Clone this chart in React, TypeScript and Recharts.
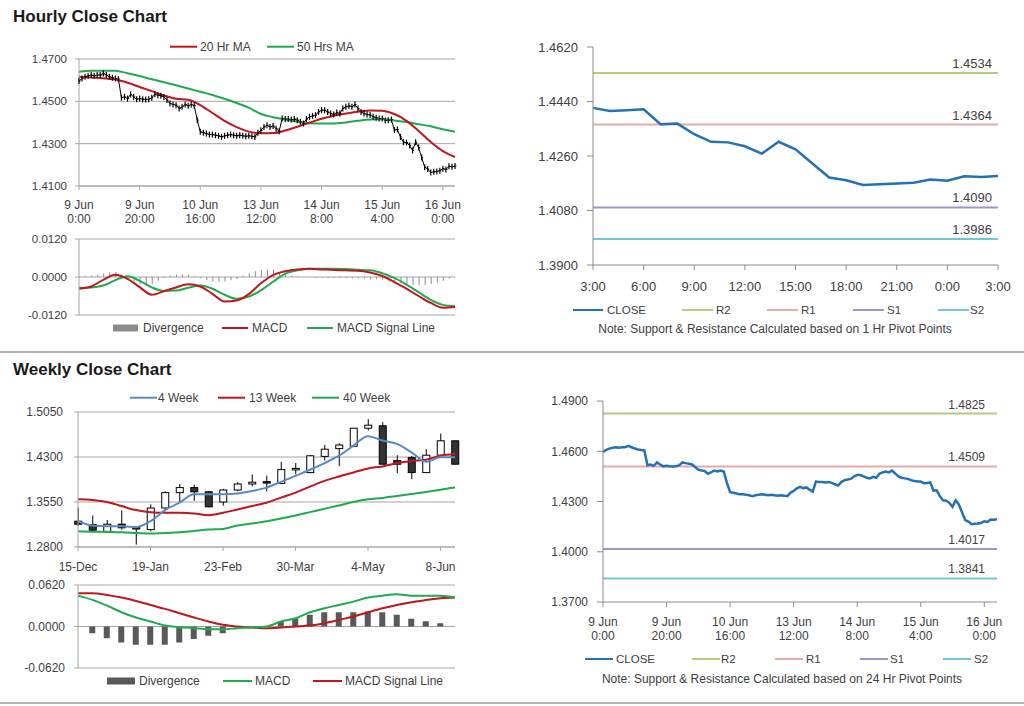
import React from "react";
import {
  ComposedChart,
  LineChart,
  Line,
  Bar,
  XAxis,
  YAxis,
  CartesianGrid,
  ReferenceLine,
} from "recharts";

// ---- hourly closes, 9 Jun 0:00 onwards (one per trading hour) ----
const hourlyClose = [
  1.4596, 1.4608, 1.4616, 1.4621, 1.4624, 1.4621, 1.4624, 1.4624, 1.4632, 1.4624,
  1.4616, 1.4611, 1.4608, 1.4605, 1.4517, 1.4521, 1.4513, 1.4533, 1.4521, 1.451,
  1.4513, 1.451, 1.4509, 1.451, 1.4517, 1.4533, 1.4529, 1.4526, 1.4521, 1.4506,
  1.449, 1.4485, 1.4482, 1.4466, 1.4474, 1.4485, 1.4479, 1.4485, 1.4479, 1.4411,
  1.4356, 1.4352, 1.4348, 1.4343, 1.4343, 1.434, 1.4337, 1.4332, 1.4337, 1.434,
  1.4343, 1.434, 1.4337, 1.434, 1.4337, 1.4335, 1.4337, 1.4335, 1.4332, 1.4352,
  1.4363, 1.4379, 1.4387, 1.4379, 1.4384, 1.4371, 1.4359, 1.4419, 1.4416, 1.4416,
  1.4414, 1.4416, 1.4411, 1.4403, 1.4395, 1.4416, 1.4427, 1.4431, 1.4435, 1.445,
  1.4458, 1.4458, 1.445, 1.4442, 1.4438, 1.4447, 1.4442, 1.4466, 1.4474, 1.4479,
  1.4474, 1.4485, 1.4466, 1.445, 1.4442, 1.4438, 1.4435, 1.4427, 1.4422, 1.4419,
  1.4419, 1.4409, 1.4411, 1.4414, 1.4365, 1.4367, 1.4332, 1.4307, 1.4305, 1.4292,
  1.4268, 1.4307, 1.4282, 1.4235, 1.4189, 1.418, 1.4164, 1.4167, 1.4169, 1.4172,
  1.4182, 1.4178, 1.4193, 1.4191, 1.4194,
];

// moving averages read every 4 hours
const maHours = [
  0, 4, 8, 12, 16, 20, 24, 28, 32, 36, 40, 44, 48, 52, 56, 60, 64, 68, 72, 76, 80,
  84, 88, 92, 96, 100, 104, 108, 112, 116, 120, 124,
];
const ma20 = [
  1.4616, 1.4612, 1.4609, 1.4603, 1.4588, 1.4568, 1.4548, 1.4528, 1.4512, 1.4507,
  1.4482, 1.4445, 1.4408, 1.4378, 1.4357, 1.4349, 1.435, 1.4362, 1.438, 1.4399,
  1.4418, 1.4432, 1.4442, 1.4451, 1.4457, 1.4455, 1.444, 1.4408, 1.436, 1.4308,
  1.4265, 1.4237,
];
const ma50 = [
  1.464, 1.4644, 1.4645, 1.4644, 1.4633, 1.462, 1.4604, 1.459, 1.4576, 1.4561,
  1.4545, 1.453, 1.4512, 1.4492, 1.447, 1.444, 1.4425, 1.4414, 1.4404, 1.4396,
  1.4395, 1.4395, 1.44, 1.4408, 1.4414, 1.4415, 1.441, 1.4402, 1.4392, 1.4382,
  1.4368, 1.4356,
];

// hourly MACD, read every 4 hours; divergence every 2 hours
const hourlyMacd = [
  -0.0037, -0.003, -0.0009, 0.0007, -0.0006, -0.0032, -0.0056, -0.0045, -0.0033,
  -0.0023, -0.003, -0.0053, -0.0077, -0.0074, -0.0054, -0.002, 0.0006, 0.0018,
  0.0024, 0.0026, 0.0024, 0.0022, 0.0021, 0.002, 0.0014, 0.0003, -0.0016, -0.0037,
  -0.006, -0.0082, -0.0097, -0.0095,
];
const hourlySignal = [
  -0.0034, -0.0033, -0.0027, -0.001, 0.0002, -0.0012, -0.0033, -0.0044, -0.0043,
  -0.0034, -0.0027, -0.0037, -0.0056, -0.0069, -0.0062, -0.0042, -0.0015, 0.001,
  0.0021, 0.0026, 0.0026, 0.0026, 0.0025, 0.0023, 0.0021, 0.0012, -0.0003, -0.0024,
  -0.0048, -0.0072, -0.0088, -0.0092,
];
const divergenceHours = [
  0, 2, 4, 6, 8, 10, 12, 14, 16, 18, 20, 22, 24, 26, 28, 30, 32, 34, 36, 38, 40, 42,
  44, 46, 48, 50, 52, 54, 56, 58, 60, 62, 64, 66, 68, 70, 72, 74, 76, 78, 80, 82, 84,
  86, 88, 90, 92, 94, 96, 98, 100, 102, 104, 106, 108, 110, 112, 114, 116, 118, 120,
  122, 124,
];
const hourlyDivergence = [
  -0.0003, 0.0003, 0.0004, 0.0008, 0.0012, 0.0015, 0.0016, 0.0008, -0.0004, -0.0014,
  -0.0022, -0.0025, -0.0022, -0.0012, -0.0003, 0.0004, 0.0008, 0.0008, 0.0008, 0.0003,
  -0.0004, -0.001, -0.0014, -0.0015, -0.0014, -0.001, -0.0006, 0.0004, 0.0012, 0.0018,
  0.0021, 0.0024, 0.0024, 0.0016, 0.0009, 0.0004, 0.0002, 0.0001, -0.0001, -0.0002,
  -0.0002, -0.0003, -0.0003, -0.0003, -0.0003, -0.0004, -0.0004, -0.0005, -0.0006,
  -0.0007, -0.0008, -0.0012, -0.0016, -0.0019, -0.0022, -0.0025, -0.0026, -0.0025,
  -0.0022, -0.0018, -0.0012, -0.0005, -0.0001,
];

const hourlyTickHours = [0, 20, 40, 60, 80, 100, 120];
const hourlyTickLabels = [
  ["9 Jun", "0:00"],
  ["9 Jun", "20:00"],
  ["10 Jun", "16:00"],
  ["13 Jun", "12:00"],
  ["14 Jun", "8:00"],
  ["15 Jun", "4:00"],
  ["16 Jun", "0:00"],
];
const hourlyPriceTicks = [1.41, 1.43, 1.45, 1.47];
const hourlyMacdTicks = [-0.012, 0, 0.012];

// ---- pivot charts ----
const pivotNames = ["R2", "R1", "S1", "S2"];
const pivot1hValues = [1.4534, 1.4364, 1.409, 1.3986];
const pivot24hValues = [1.4825, 1.4509, 1.4017, 1.3841];
const pivotHourLabels = ["3:00", "6:00", "9:00", "12:00", "15:00", "18:00", "21:00", "0:00", "3:00"];
const pivot1hTicks = [1.39, 1.408, 1.426, 1.444, 1.462];
const pivot24hTicks = [1.37, 1.4, 1.43, 1.46, 1.49];

// ---- weekly ----
const weekTickLabels = ["15-Dec", "19-Jan", "23-Feb", "30-Mar", "4-May", "8-Jun"];
const weeklyOpen = [
  1.323, 1.3174, 1.306, 1.318, 1.313, 1.309, 1.345, 1.3706, 1.379, 1.372, 1.355,
  1.375, 1.385, 1.389, 1.386, 1.41, 1.404, 1.431, 1.444, 1.448, 1.478, 1.482, 1.424,
  1.429, 1.404, 1.433, 1.457,
];
const weeklyClose = [
  1.318, 1.308, 1.318, 1.312, 1.31, 1.345, 1.3706, 1.379, 1.372, 1.347, 1.375, 1.385,
  1.388, 1.387, 1.409, 1.411, 1.432, 1.443, 1.45, 1.478, 1.483, 1.418, 1.418, 1.404,
  1.433, 1.457, 1.418,
];
const weeklyHigh = [
  1.3454, 1.3325, 1.325, 1.341, 1.3146, 1.351, 1.373, 1.385, 1.384, 1.373, 1.377,
  1.388, 1.401, 1.399, 1.422, 1.42, 1.433, 1.45, 1.453, 1.478, 1.493, 1.488, 1.433,
  1.432, 1.443, 1.469, 1.457,
];
const weeklyLow = [
  1.315, 1.306, 1.306, 1.309, 1.284, 1.306, 1.34, 1.354, 1.357, 1.346, 1.349, 1.373,
  1.381, 1.373, 1.385, 1.401, 1.403, 1.424, 1.415, 1.448, 1.474, 1.418, 1.403, 1.393,
  1.404, 1.433, 1.418,
];
const ma4w = [
  1.323, 1.3157, 1.3146, 1.3146, 1.313, 1.323, 1.3415, 1.3538, 1.3678, 1.3678, 1.3678,
  1.369, 1.3734, 1.379, 1.3885, 1.3986, 1.4087, 1.4199, 1.4322, 1.449, 1.4647, 1.4574,
  1.4518, 1.4378, 1.4221, 1.4294, 1.4294,
];
const ma13w = [
  1.3594, 1.3583, 1.355, 1.3482, 1.3415, 1.3381, 1.337, 1.337, 1.3359, 1.3331, 1.337,
  1.3426, 1.3482, 1.3538, 1.3622, 1.3706, 1.3807, 1.3902, 1.3975, 1.4042, 1.4109,
  1.4143, 1.4199, 1.4232, 1.4255, 1.4322, 1.435,
];
const ma40w = [
  1.3062, 1.3056, 1.3051, 1.3045, 1.3034, 1.3023, 1.3034, 1.3045, 1.3068, 1.309,
  1.3101, 1.3157, 1.3191, 1.323, 1.3275, 1.3325, 1.3381, 1.3437, 1.3493, 1.355,
  1.3594, 1.3617, 1.365, 1.3684, 1.3717, 1.3756, 1.379,
];
const weeklyMacd = [
  0.0461, 0.0397, 0.0312, 0.0213, 0.0134, 0.0074, 0.0015, -0.001, -0.0025, -0.004,
  -0.004, -0.0025, -0.0015, 0.0, 0.0074, 0.0124, 0.0213, 0.0273, 0.0322, 0.0372,
  0.0432, 0.0461, 0.0481, 0.0461, 0.0461, 0.0461, 0.0432,
];
const weeklySignal = [
  0.0496, 0.0496, 0.0471, 0.0432, 0.0382, 0.0322, 0.0263, 0.0198, 0.0134, 0.0074,
  0.0025, 0.0, -0.0015, -0.0025, -0.0015, 0.0, 0.0015, 0.005, 0.0099, 0.0149, 0.0213,
  0.0273, 0.0322, 0.0362, 0.0397, 0.0422, 0.0432,
];
const weeklyDivergence = [
  0.0, -0.0099, -0.0174, -0.0238, -0.0273, -0.0273, -0.0273, -0.0238, -0.0188,
  -0.0139, -0.0099, -0.0015, 0.0, 0.0, 0.0074, 0.0124, 0.0174, 0.0213, 0.0213, 0.0213,
  0.0223, 0.0213, 0.0174, 0.0114, 0.0079, 0.005, 0.0,
];
const weeklyPriceTicks = [1.28, 1.355, 1.43, 1.505];
const weeklyMacdTicks = [-0.062, 0, 0.062];

// ---- rows for recharts ----
const hourlyRows = hourlyClose.map((close, i) => {
  const k = maHours.indexOf(i);
  return { i, close, ma20: k >= 0 ? ma20[k] : null, ma50: k >= 0 ? ma50[k] : null };
});

const macdIdx = Array.from(new Set([...divergenceHours, ...maHours])).sort((a, b) => a - b);
const hourlyMacdRows = macdIdx.map((i) => {
  const d = divergenceHours.indexOf(i);
  const m = maHours.indexOf(i);
  return {
    i,
    div: d >= 0 ? hourlyDivergence[d] : null,
    macd: m >= 0 ? hourlyMacd[m] : null,
    signal: m >= 0 ? hourlySignal[m] : null,
  };
});

const pivot1hRows = hourlyClose.slice(-25).map((close, i) => ({ i, close }));
const pivot24hRows = hourlyClose.map((close, i) => ({ i, close }));

const weeklyRows = weeklyClose.map((close, i) => ({
  i,
  open: weeklyOpen[i],
  close,
  high: weeklyHigh[i],
  low: weeklyLow[i],
  ma4: ma4w[i],
  ma13: ma13w[i],
  ma40: ma40w[i],
  macd: weeklyMacd[i],
  signal: weeklySignal[i],
  div: weeklyDivergence[i],
}));

// ---- styles ----
const FONT = '"Liberation Sans", Arial, Helvetica, sans-serif';
const GRID = "#a6a6a6";
const AXIS = "#8c8c8c";
const TEXT = "#404040";
const RED = "#c0161c";
const GREEN = "#1faa4f";
const BLUE = "#2471b5";
const MA4_BLUE = "#5a8ac6";
const PIVOT_COLORS = ["#b5cc80", "#e8a9a9", "#a393cb", "#74c3dd"];

const fmt4 = (v: number) => v.toFixed(4);

const twoLineTick = (off1: number, off2: number, fontSize: number) => (props: any) => {
  const { x, y, payload } = props;
  const k = hourlyTickHours.indexOf(payload.value);
  const lines = hourlyTickLabels[k] ?? ["", ""];
  return (
    <text x={x} y={y} textAnchor="middle" fontSize={fontSize} fill={TEXT}>
      <tspan x={x} dy={off1}>{lines[0]}</tspan>
      <tspan x={x} dy={off2 - off1}>{lines[1]}</tspan>
    </text>
  );
};

const renderHourBar = (props: any) => {
  const { cx, cy, index } = props;
  if (cx == null || cy == null) return <g key={`hb-${index}`} />;
  return (
    <g key={`hb-${index}`}>
      <line x1={cx} x2={cx} y1={cy - 3} y2={cy + 3} stroke="#000" strokeWidth={1.2} />
      <line x1={cx} x2={cx + 1.5} y1={cy} y2={cy} stroke="#000" strokeWidth={1} />
    </g>
  );
};

const Candle = (props: any) => {
  const { x, y, width, height, payload } = props;
  if (x == null || y == null) return null;
  const { open, close, high, low } = payload;
  const py = (v: number) => y + ((high - v) / (high - low)) * height;
  const cx = x + width / 2;
  const top = py(Math.max(open, close));
  const bottom = py(Math.min(open, close));
  return (
    <g>
      <line x1={cx} x2={cx} y1={y} y2={y + height} stroke="#000" strokeWidth={1} />
      <rect
        x={x}
        y={top}
        width={width}
        height={Math.max(bottom - top, 1.5)}
        fill={close >= open ? "#fff" : "#333"}
        stroke="#000"
        strokeWidth={1}
      />
    </g>
  );
};

const pivotLabel = (text: string, inset: number, fontSize: number) => (props: any) => {
  const vb = props.viewBox;
  return (
    <text x={vb.x + vb.width - inset} y={vb.y - 5} textAnchor="end" fontSize={fontSize} fill={TEXT}>
      {text}
    </text>
  );
};

type LegendSpec = { x: number; w: number; tx: number; color: string; label: string; box?: boolean };

function Legend({ y, items, fontSize = 12 }: { y: number; items: LegendSpec[]; fontSize?: number }) {
  return (
    <g>
      {items.map((it) => (
        <g key={it.label}>
          {it.box ? (
            <rect x={it.x} y={y - 3.5} width={it.w} height={7} fill={it.color} />
          ) : (
            <line x1={it.x} x2={it.x + it.w} y1={y} y2={y} stroke={it.color} strokeWidth={2} />
          )}
          <text x={it.tx} y={y + fontSize * 0.36} fontSize={fontSize} fill={TEXT}>
            {it.label}
          </text>
        </g>
      ))}
    </g>
  );
}

export default function App() {
  return (
    <div
      style={{
        position: "absolute",
        left: 0,
        top: 0,
        width: 1024,
        height: 706,
        background: "#fff",
        fontFamily: FONT,
        overflow: "hidden",
      }}
    >
      {/* hourly price */}
      <div style={{ position: "absolute", left: 0, top: 30 }}>
        <ComposedChart width={470} height={200} data={hourlyRows} margin={{ top: 29, right: 15, bottom: 14, left: 0 }}>
          <CartesianGrid vertical={false} stroke={GRID} />
          <XAxis
            dataKey="i"
            type="number"
            domain={[0, 124]}
            ticks={hourlyTickHours}
            interval={0}
            height={30}
            tickSize={4}
            tickMargin={0}
            axisLine={{ stroke: GRID }}
            tickLine={{ stroke: GRID }}
            tick={twoLineTick(19.3, 33.3, 12)}
          />
          <YAxis
            type="number"
            domain={[1.41, 1.47]}
            ticks={hourlyPriceTicks}
            interval={0}
            width={79}
            tickSize={4}
            tickMargin={8}
            axisLine={{ stroke: GRID }}
            tickLine={{ stroke: GRID }}
            tick={{ fontSize: 11.5, fill: TEXT }}
            tickFormatter={fmt4}
          />
          <Line dataKey="close" stroke="#000" strokeWidth={1} dot={renderHourBar} isAnimationActive={false} />
          <Line dataKey="ma50" type="monotone" stroke={GREEN} strokeWidth={2} dot={false} connectNulls isAnimationActive={false} />
          <Line dataKey="ma20" type="monotone" stroke={RED} strokeWidth={2} dot={false} connectNulls isAnimationActive={false} />
        </ComposedChart>
      </div>

      {/* hourly MACD */}
      <div style={{ position: "absolute", left: 0, top: 232 }}>
        <ComposedChart width={470} height={100} data={hourlyMacdRows} margin={{ top: 7, right: 15, bottom: 17, left: 0 }}>
          <CartesianGrid vertical={false} stroke={GRID} horizontalValues={hourlyMacdTicks} />
          <XAxis
            dataKey="i"
            type="number"
            domain={[0, 124]}
            height={0}
            tick={false}
            tickLine={false}
            axisLine={{ stroke: GRID }}
          />
          <YAxis
            type="number"
            domain={[-0.012, 0.012]}
            ticks={hourlyMacdTicks}
            interval={0}
            width={79}
            tickSize={4}
            tickMargin={8}
            axisLine={{ stroke: GRID }}
            tickLine={{ stroke: GRID }}
            tick={{ fontSize: 11.5, fill: TEXT }}
            tickFormatter={fmt4}
          />
          <Bar dataKey="div" fill="#8c8c8c" barSize={1} isAnimationActive={false} />
          <Line dataKey="signal" type="monotone" stroke={GREEN} strokeWidth={2} dot={false} connectNulls isAnimationActive={false} />
          <Line dataKey="macd" type="monotone" stroke={RED} strokeWidth={2} dot={false} connectNulls isAnimationActive={false} />
        </ComposedChart>
      </div>

      {/* 1 hr pivot */}
      <div style={{ position: "absolute", left: 520, top: 30 }}>
        <LineChart width={500} height={275} data={pivot1hRows} margin={{ top: 17, right: 22, bottom: 10, left: 0 }}>
          <XAxis
            dataKey="i"
            type="number"
            domain={[0, 24]}
            ticks={pivotHourLabels.map((_, k) => k * 3)}
            interval={0}
            height={30}
            tickSize={5}
            tickMargin={12}
            axisLine={{ stroke: AXIS }}
            tickLine={{ stroke: AXIS }}
            tick={{ fontSize: 13, fill: TEXT }}
            tickFormatter={(v: number) => pivotHourLabels[Math.round(v / 3)]}
          />
          <YAxis
            type="number"
            domain={[1.39, 1.462]}
            ticks={pivot1hTicks}
            interval={0}
            width={73}
            tickSize={6}
            tickMargin={9}
            axisLine={{ stroke: AXIS }}
            tickLine={{ stroke: AXIS }}
            tick={{ fontSize: 13, fill: TEXT }}
            tickFormatter={fmt4}
          />
          {pivotNames.map((n, k) => (
            <ReferenceLine
              key={n}
              y={pivot1hValues[k]}
              stroke={PIVOT_COLORS[k]}
              strokeWidth={2}
              label={pivotLabel(fmt4(pivot1hValues[k]), 6, 13)}
            />
          ))}
          <Line dataKey="close" stroke={BLUE} strokeWidth={2.5} dot={false} isAnimationActive={false} />
        </LineChart>
      </div>

      {/* weekly price */}
      <div style={{ position: "absolute", left: 0, top: 380 }}>
        <ComposedChart width={470} height={195} data={weeklyRows} margin={{ top: 32, right: 15, bottom: 8, left: 0 }}>
          <CartesianGrid vertical={false} stroke={GRID} />
          <XAxis
            dataKey="i"
            type="number"
            domain={[0, 26]}
            ticks={weekTickLabels.map((_, k) => k * 5)}
            interval={0}
            height={20}
            tickSize={4}
            tickMargin={11}
            axisLine={{ stroke: GRID }}
            tickLine={{ stroke: GRID }}
            tick={{ fontSize: 12, fill: TEXT }}
            tickFormatter={(v: number) => weekTickLabels[Math.round(v / 5)]}
          />
          <YAxis
            type="number"
            domain={[1.28, 1.505]}
            ticks={weeklyPriceTicks}
            interval={0}
            width={78}
            tickSize={4}
            tickMargin={11}
            axisLine={{ stroke: GRID }}
            tickLine={{ stroke: GRID }}
            tick={{ fontSize: 12, fill: TEXT }}
            tickFormatter={fmt4}
          />
          <Bar dataKey={(r: any) => [r.low, r.high]} barSize={7} shape={Candle} isAnimationActive={false} />
          <Line dataKey="ma40" type="monotone" stroke={GREEN} strokeWidth={2} dot={false} isAnimationActive={false} />
          <Line dataKey="ma13" type="monotone" stroke={RED} strokeWidth={2} dot={false} isAnimationActive={false} />
          <Line dataKey="ma4" type="monotone" stroke={MA4_BLUE} strokeWidth={2} dot={false} isAnimationActive={false} />
        </ComposedChart>
      </div>

      {/* weekly MACD */}
      <div style={{ position: "absolute", left: 0, top: 578 }}>
        <ComposedChart width={470} height={105} data={weeklyRows} margin={{ top: 7, right: 15, bottom: 15, left: 0 }}>
          <CartesianGrid vertical={false} stroke={GRID} horizontalValues={weeklyMacdTicks} />
          <XAxis
            dataKey="i"
            type="number"
            domain={[0, 26]}
            height={0}
            tick={false}
            tickLine={false}
            axisLine={{ stroke: GRID }}
          />
          <YAxis
            type="number"
            domain={[-0.062, 0.062]}
            ticks={weeklyMacdTicks}
            interval={0}
            allowDataOverflow
            width={78}
            tickSize={4}
            tickMargin={9}
            axisLine={{ stroke: GRID }}
            tickLine={{ stroke: GRID }}
            tick={{ fontSize: 12, fill: TEXT }}
            tickFormatter={fmt4}
          />
          <Bar dataKey="div" fill="#595959" barSize={6} isAnimationActive={false} />
          <Line dataKey="signal" type="monotone" stroke={RED} strokeWidth={2} dot={false} isAnimationActive={false} />
          <Line dataKey="macd" type="monotone" stroke={GREEN} strokeWidth={2} dot={false} isAnimationActive={false} />
        </ComposedChart>
      </div>

      {/* 24 hr pivot */}
      <div style={{ position: "absolute", left: 520, top: 385 }}>
        <LineChart width={500} height={260} data={pivot24hRows} margin={{ top: 16, right: 23, bottom: 8, left: 0 }}>
          <XAxis
            dataKey="i"
            type="number"
            domain={[0, 124]}
            ticks={hourlyTickHours}
            interval={0}
            height={35}
            tickSize={5}
            tickMargin={0}
            axisLine={{ stroke: AXIS }}
            tickLine={{ stroke: AXIS }}
            tick={twoLineTick(19, 33.3, 12)}
          />
          <YAxis
            type="number"
            domain={[1.37, 1.49]}
            ticks={pivot24hTicks}
            interval={0}
            width={83}
            tickSize={6}
            tickMargin={9}
            axisLine={{ stroke: AXIS }}
            tickLine={{ stroke: AXIS }}
            tick={{ fontSize: 12, fill: TEXT }}
            tickFormatter={fmt4}
          />
          {pivotNames.map((n, k) => (
            <ReferenceLine
              key={n}
              y={pivot24hValues[k]}
              stroke={PIVOT_COLORS[k]}
              strokeWidth={2}
              label={pivotLabel(fmt4(pivot24hValues[k]), 12, 12)}
            />
          ))}
          <Line dataKey="close" stroke={BLUE} strokeWidth={2.5} dot={false} isAnimationActive={false} />
        </LineChart>
      </div>

      {/* titles, legends, notes, separators */}
      <svg
        width={1024}
        height={706}
        style={{ position: "absolute", left: 0, top: 0, pointerEvents: "none" }}
      >
        <text x={13} y={21.7} fontSize={17} fontWeight="bold" fill="#1a1a1a">
          Hourly Close Chart
        </text>
        <text x={13} y={375} fontSize={17} fontWeight="bold" fill="#1a1a1a">
          Weekly Close Chart
        </text>
        <line x1={0} x2={1024} y1={352} y2={352} stroke="#9a9a9a" strokeWidth={1.5} />
        <line x1={0} x2={1024} y1={703} y2={703} stroke="#9a9a9a" strokeWidth={1.5} />

        <Legend
          y={46.7}
          items={[
            { x: 170, w: 27, tx: 200, color: RED, label: "20 Hr MA" },
            { x: 267, w: 27, tx: 297, color: GREEN, label: "50 Hrs MA" },
          ]}
        />
        <Legend
          y={328}
          items={[
            { x: 113, w: 25, tx: 143, color: "#8c8c8c", label: "Divergence", box: true },
            { x: 222, w: 26, tx: 252, color: RED, label: "MACD" },
            { x: 307, w: 26, tx: 337, color: GREEN, label: "MACD Signal Line" },
          ]}
        />
        <Legend
          y={310}
          fontSize={11.5}
          items={[
            { x: 573, w: 30, tx: 607, color: BLUE, label: "CLOSE" },
            ...pivotNames.map((n, k) => ({
              x: [682, 767, 853, 938][k],
              w: 31,
              tx: [716, 801, 887, 970][k],
              color: PIVOT_COLORS[k],
              label: n,
            })),
          ]}
        />
        <text x={775} y={333.3} textAnchor="middle" fontSize={12} fill={TEXT}>
          Note: Support &amp; Resistance Calculated based on 1 Hr Pivot Points
        </text>

        <Legend
          y={397.7}
          items={[
            { x: 130, w: 27, tx: 158, color: MA4_BLUE, label: "4 Week" },
            { x: 218, w: 27, tx: 249, color: RED, label: "13 Week" },
            { x: 312, w: 27, tx: 343, color: GREEN, label: "40 Week" },
          ]}
        />
        <Legend
          y={681}
          items={[
            { x: 107, w: 28, tx: 139, color: "#595959", label: "Divergence", box: true },
            { x: 223, w: 29, tx: 255, color: GREEN, label: "MACD" },
            { x: 313, w: 29, tx: 345, color: RED, label: "MACD Signal Line" },
          ]}
        />
        <Legend
          y={659}
          fontSize={11.5}
          items={[
            { x: 585, w: 28, tx: 616, color: BLUE, label: "CLOSE" },
            ...pivotNames.map((n, k) => ({
              x: [692, 775, 860, 943][k],
              w: 28,
              tx: [721, 806, 890, 974][k],
              color: PIVOT_COLORS[k],
              label: n,
            })),
          ]}
        />
        <text x={782} y={683.3} textAnchor="middle" fontSize={12} fill={TEXT}>
          Note: Support &amp; Resistance Calculated based on 24 Hr Pivot Points
        </text>
      </svg>
    </div>
  );
}
